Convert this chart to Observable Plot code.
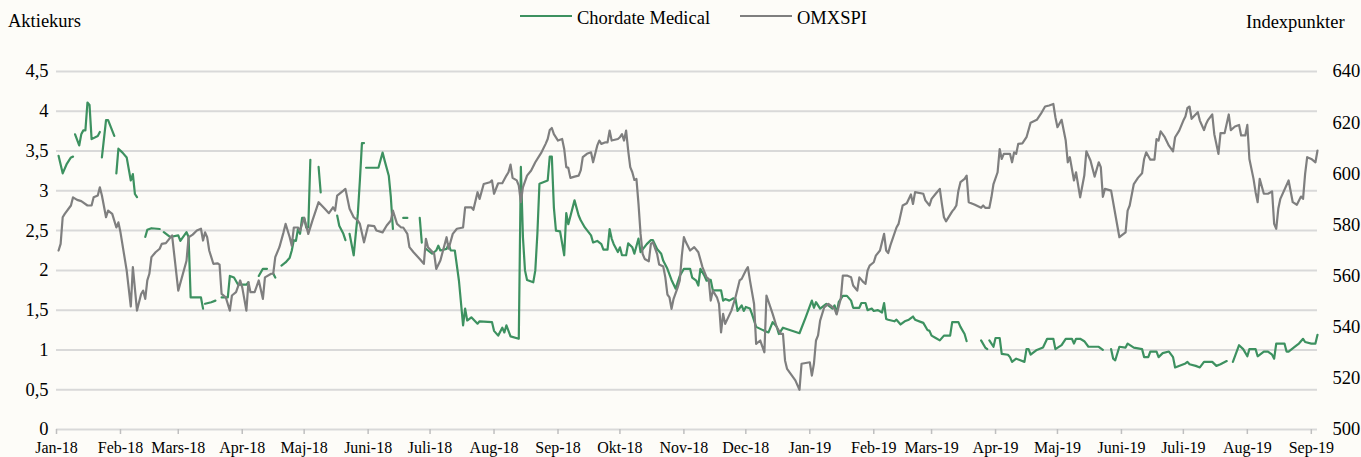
<!DOCTYPE html>
<html>
<head>
<meta charset="utf-8">
<script src="https://cdn.jsdelivr.net/npm/d3@7"></script>
<script src="https://cdn.jsdelivr.net/npm/@observablehq/plot@0.6"></script>
<style>
  html, body { margin: 0; padding: 0; background: #fdfcf8; }
  #wrap { position: relative; width: 1361px; height: 457px; font-family: "Liberation Serif", "Times New Roman", serif; color: #000; }
  .lbl { position: absolute; font-size: 18.5px; line-height: 18.5px; white-space: nowrap; }
  .key { position: absolute; height: 0; border-top: 2.5px solid; width: 52px; }
  #chart { position: absolute; left: 0; top: 0; }
</style>
</head>
<body>
<div id="wrap">
  <div id="chart"></div>
  <div class="lbl" style="left:8px; top:12px;">Aktiekurs</div>
  <div class="lbl" style="left:1246px; top:13px;">Indexpunkter</div>
  <div class="key" style="left:520px; top:15px; border-color:#3d9160;"></div>
  <div class="lbl" style="left:577px; top:9px;">Chordate Medical</div>
  <div class="key" style="left:740px; top:15px; border-color:#7f7f7f;"></div>
  <div class="lbl" style="left:797px; top:9px;">OMXSPI</div>
</div>
<script>
// ---- Data (days counted from 2018-01-01) ----
const startYear = 2018;

const chordateDay = [1,3,5,7,8,null,
  9,11,12,13,14,15,16,17,20,21,null,
  22,24,25,28,null,
  29,30,32,34,36,37,38,39,null,
  43,44,46,50,null,
  52,55,59,60,63,64,65,70,71,null,
  72,75,77,null,
  80,83,84,86,88,92,93,null,
  98,100,102,null,
  105,106,null,
  109,111,113,114,115,116,117,118,119,120,121,122,123,null,
  127,128,null,
  136,137,139,140,null,
  142,144,145,146,147,148,149,null,
  150,156,158,159,161,162,163,null,
  168,170,null,
  176,177,null,
  179,180,182,184,185,186,189,190,191,193,195,197,198,199,201,204,205,211,212,214,216,217,218,220,224,225,226,227,228,231,232,233,234,238,239,240,241,242,244,246,247,248,251,253,254,256,259,260,262,264,265,267,268,269,270,272,273,274,276,277,279,280,282,283,286,288,289,291,293,294,296,298,300,302,304,307,308,310,311,312,314,315,317,318,322,323,324,326,328,329,330,332,333,334,336,337,339,343,345,347,349,350,352,360,363,366,367,368,370,373,376,377,378,379,381,383,385,386,389,390,392,393,395,396,398,400,401,402,403,406,407,409,411,413,415,416,419,420,422,423,424,426,428,430,433,434,437,438,440,441,null,
  448,450,451,null,
  452,454,455,457,458,461,462,463,465,467,469,470,471,472,475,478,480,483,484,487,489,492,493,494,496,498,500,505,507,null,
  511,512,513,515,518,519,522,526,527,529,530,533,534,536,539,541,542,547,548,549,552,554,556,560,562,564,567,null,
  570,573,575,577,578,581,582,585,587,589,590,591,595,596,597,601,602,604,605,608,610,611];

const chordatePrice = [3.44,3.22,3.34,3.42,3.43,null,
  3.71,3.57,3.71,3.76,3.76,4.11,4.08,3.65,3.69,3.74,null,
  3.42,3.89,3.89,3.69,null,
  3.22,3.53,3.48,3.42,3.13,3.21,2.96,2.92,null,
  2.42,2.51,2.53,2.52,null,
  2.48,2.42,2.44,2.37,2.48,2.42,1.66,1.66,1.52,null,
  1.58,1.60,1.62,null,
  1.66,1.66,1.93,1.91,1.82,1.82,1.85,null,
  1.93,2.02,2.02,null,
  1.96,1.91,null,
  2.06,2.10,2.16,2.25,2.38,2.37,2.52,2.46,2.66,2.66,2.54,2.54,3.39,null,
  3.30,2.98,null,
  2.69,2.56,2.46,2.38,null,
  2.46,2.19,2.46,2.71,3.13,3.60,3.60,null,
  3.29,3.29,3.48,3.38,3.19,2.92,2.52,null,
  2.66,2.66,null,
  2.66,2.35,null,
  2.27,2.25,2.21,2.25,2.31,2.25,2.27,2.33,2.25,2.25,1.87,1.31,1.52,1.37,1.41,1.33,1.36,1.35,1.24,1.18,1.28,1.22,1.31,1.17,1.14,3.30,2.42,2.00,1.88,1.85,2.00,2.46,3.09,3.13,3.43,3.43,2.79,2.50,2.49,2.19,2.72,2.58,2.88,2.69,2.63,2.54,2.44,2.35,2.37,2.33,2.26,2.26,2.52,2.40,2.33,2.23,2.29,2.19,2.19,2.34,2.29,2.21,2.40,2.23,2.33,2.38,2.38,2.27,2.21,2.12,2.02,1.88,1.77,1.93,2.02,2.02,1.91,1.87,1.81,2.02,1.93,1.87,1.88,1.75,1.75,1.62,1.64,1.62,1.65,1.64,1.49,1.56,1.49,1.54,1.52,1.45,1.29,1.24,1.22,1.35,1.29,1.20,1.28,1.21,1.41,1.62,1.53,1.60,1.52,1.58,1.52,1.56,1.46,1.60,1.68,1.68,1.62,1.53,1.53,1.59,1.59,1.50,1.52,1.49,1.50,1.47,1.59,1.39,1.38,1.36,1.38,1.32,1.36,1.38,1.42,1.38,1.35,1.34,1.25,1.24,1.18,1.15,1.12,1.18,1.18,1.35,1.35,1.29,1.20,1.11,null,
  1.12,1.03,1.01,null,
  1.12,1.04,1.15,1.15,0.95,0.94,0.91,0.85,0.89,0.87,0.85,1.01,1.01,0.94,1.00,1.03,1.14,1.14,1.01,1.06,1.14,1.14,1.08,1.14,1.14,1.11,1.04,1.04,1.00,null,
  1.01,0.89,0.87,1.04,1.03,1.08,1.03,1.01,0.91,0.91,0.98,0.98,0.91,0.96,0.98,0.91,0.78,0.83,0.85,0.82,0.80,0.78,0.85,0.85,0.80,0.82,0.86,null,
  0.85,1.06,1.01,0.92,1.01,1.01,0.92,0.98,0.98,0.94,0.89,1.08,1.08,0.98,0.98,1.06,1.08,1.14,1.10,1.08,1.08,1.19];

const omxDay = [1,2,3,4,7,8,10,12,15,17,18,20,21,22,24,25,27,28,29,30,31,34,36,37,39,41,42,43,44,45,46,48,50,51,53,56,59,63,64,66,68,70,71,72,73,74,76,78,79,80,82,84,85,87,89,90,92,93,94,96,98,100,101,104,105,106,108,110,111,113,114,115,117,118,120,122,124,127,130,132,134,135,136,139,140,142,144,146,147,149,151,154,155,158,160,162,163,165,167,168,170,171,173,176,178,179,180,183,184,186,189,190,192,194,197,198,201,202,204,205,207,210,211,212,214,216,218,219,220,221,223,224,225,226,228,230,232,234,235,237,238,239,240,241,243,245,246,247,248,249,251,253,254,255,257,259,260,262,263,264,266,267,268,269,272,273,274,275,276,277,278,279,280,281,282,283,284,285,287,288,289,291,292,294,295,296,297,298,299,301,302,303,304,305,307,309,311,313,315,316,317,318,320,321,322,323,324,327,329,331,332,334,335,336,338,339,341,343,344,347,349,351,352,353,354,358,360,361,365,366,367,368,369,370,372,374,375,377,378,380,381,383,385,386,388,389,391,392,393,394,396,397,399,401,402,403,404,407,408,410,412,414,415,416,420,421,423,424,426,428,429,430,431,434,435,436,437,438,440,441,442,445,448,449,450,452,453,454,456,457,458,459,462,463,464,465,466,468,470,472,475,477,479,481,483,484,485,487,489,490,491,493,494,496,498,499,501,503,505,506,507,508,511,513,515,518,519,520,522,524,526,527,528,530,532,533,534,535,537,539,541,542,544,546,547,548,549,550,551,553,554,556,557,558,560,561,563,564,566,568,569,571,573,574,576,577,578,580,581,582,583,585,587,589,590,591,592,593,597,599,601,603,604,605,606,608,610,611];

const omxIndex = [570,572.6,583,584.3,587.6,590.8,589.8,589.3,587.6,587.6,590.8,591.5,594.7,591.5,583,585.6,584.3,581.7,579,581,577.1,562.2,548.1,563.5,546.5,553,554.3,551.1,558.3,560.9,567.4,569.3,570.7,572.6,572.9,575.9,554.3,566,575.2,576.2,577.8,578.5,573.9,577.1,575.2,570,564.8,565,564.5,553,551.7,546.5,552.4,553.7,558.3,555.6,546.5,557.6,553.7,553.7,558.3,551.1,559.5,560.9,560.9,567.4,571.3,577.1,580.4,575.2,571.9,579,579,577.8,582.8,576.5,581.7,588.9,586.3,584.6,586.9,585.6,591.5,593.4,594.1,586.3,583,581.7,580.4,573.2,579.8,579.5,577.8,577.1,579.8,581.7,585.6,580.4,579,579,576.5,571.3,569.3,566.7,564.8,574.6,571.3,568.7,562.8,566.1,575.2,570.7,576.5,578.5,579,586.9,586.9,585.9,592.8,590.2,596,596.7,597.4,592.2,596.3,596.3,599.3,600.6,603.6,598.4,597.4,595.4,588.9,594.7,599.3,601.3,604.5,607.1,608.4,611.7,613.6,617.1,617.9,615.5,613,613.6,609.7,602.6,602.3,598.4,598.9,599.3,601.3,606.5,607.8,608.4,604.5,611,613,611.7,612.3,612.3,616.9,613,613.6,614.3,615.5,613,616.9,609.1,602.6,600.6,597.6,598,588.2,576.5,568.7,566.7,565.8,572.6,573.2,568.7,564.5,563.7,559.5,552.8,551.7,547.2,551.1,555.6,558.3,568,575.2,573.2,570,571.3,569.3,563.5,559.5,558.9,550.4,554.3,551.7,549.1,538,545.2,541.3,546.5,551.7,558.3,558.9,562.2,563.5,558.3,549.1,533.5,534.8,530.2,552.4,545.2,540,537.4,537.4,527,523.7,519.2,515.5,525.7,526.3,521.1,525.7,534.8,536.8,542.6,547.8,549.1,548.5,547.2,545,551.1,560.2,560.2,559.5,556.3,554.3,559.5,557.6,557,562.2,564.1,565.4,568,570,576.5,570,569,571.9,579,580.4,587.6,588.5,591.9,588.2,592.8,592.2,589.6,587.6,590.2,592.2,594.1,588.2,583,581.4,585.3,586.3,587.6,593.4,596.7,598,599.3,588.9,587.9,586.7,587.6,586.7,586.7,590.8,596,600.6,609.7,605.8,607.8,607.8,604.5,608.4,607.8,611.7,611.9,614.3,620,621.1,623.5,626.3,626.7,627.3,622.1,618.2,621.1,613,604.5,606.5,597.4,600.6,590.8,599.3,608.8,605.2,598.9,604.5,602.6,591,594.1,593.4,584.3,575.2,577.1,585.6,587.6,596,598.4,600.2,605.8,608.4,605.5,605.5,613.6,613,616.6,614.3,611,608.8,614.3,616.9,620.8,622.4,625.8,626.3,621.5,622.4,624.1,620.8,617.1,619.5,621.1,623.2,615.5,607.8,615.9,615.9,623.2,617.1,618.5,619.1,615,615,619.1,605.8,598,592.8,588.9,598,592.2,592.2,593.1,580.4,578.5,586.3,590.2,597.4,588.9,587.9,591.1,590.2,600,606.5,605.8,604.5,609.1];

const priceTicks = [0, 0.5, 1, 1.5, 2, 2.5, 3, 3.5, 4, 4.5];
const priceTickLabels = ["0", "0,5", "1", "1,5", "2", "2,5", "3", "3,5", "4", "4,5"];
const indexTicks = [500, 520, 540, 560, 580, 600, 620, 640];
const monthLabels = ["Jan-18","Feb-18","Mars-18","Apr-18","Maj-18","Juni-18","Juli-18","Aug-18","Sep-18","Okt-18","Nov-18","Dec-18","Jan-19","Feb-19","Mars-19","Apr-19","Maj-19","Juni-19","Juli-19","Aug-19","Sep-19"];
const lastDay = 611;

// ---- Build ----
const serif = "Liberation Serif";
const dayToDate = d => d == null ? null : new Date(Date.UTC(startYear, 0, 1 + d));
const indexToPrice = v => v == null ? null : (v - 500) / 140 * 4.5;

const chordate = chordateDay.map((d, i) => ({date: dayToDate(d), value: chordatePrice[i]}));
const omx = omxDay.map((d, i) => ({date: dayToDate(d), value: indexToPrice(omxIndex[i])}));
const monthDates = monthLabels.map((_, i) => new Date(Date.UTC(startYear, i, 1)));

const chart = Plot.plot({
  width: 1361,
  height: 457,
  marginLeft: 56,
  marginRight: 44,
  marginTop: 71,
  marginBottom: 28,
  style: {background: "transparent", fontFamily: serif, color: "#000", overflow: "visible"},
  x: {type: "utc", domain: [dayToDate(0), dayToDate(lastDay)], axis: null},
  y: {domain: [0, 4.5], axis: null},
  marks: [
    Plot.ruleY(priceTicks, {stroke: "#d9d9d9", strokeWidth: 2}),
    Plot.axisX(monthDates, {
      tickSize: 5, tickPadding: 7, stroke: "#bfbfbf", strokeWidth: 1.5, label: null,
      tickFormat: (d, i) => monthLabels[i], fontSize: 16, fontFamily: serif, fill: "#000"
    }),
    Plot.axisY(priceTicks, {
      anchor: "left", tickSize: 0, tickPadding: 8, label: null,
      tickFormat: (d, i) => priceTickLabels[i], fontSize: 18.5, fontFamily: serif, fill: "#000"
    }),
    Plot.axisY(indexTicks.map(indexToPrice), {
      anchor: "right", tickSize: 0, tickPadding: 15, label: null,
      tickFormat: (d, i) => String(indexTicks[i]), fontSize: 18.5, fontFamily: serif, fill: "#000"
    }),
    Plot.line(chordate, {x: "date", y: "value", stroke: "#3d9160", strokeWidth: 2.2}),
    Plot.line(omx, {x: "date", y: "value", stroke: "#7f7f7f", strokeWidth: 2.2})
  ]
});
d3.select(chart).selectAll("text").attr("font-family", serif).style("font-family", serif);
document.getElementById("chart").appendChild(chart);
</script>
</body>
</html>
